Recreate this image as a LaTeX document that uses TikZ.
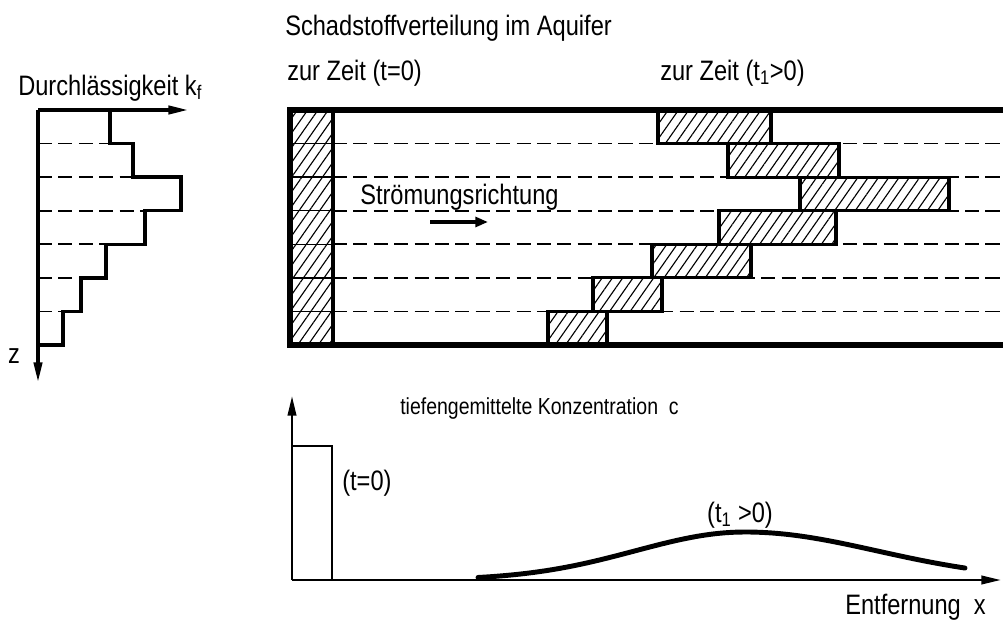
\documentclass[tikz,border=0pt]{standalone}
\usepackage{fontspec}
\setmainfont[FakeStretch=0.84]{Liberation Sans}
\usetikzlibrary{arrows.meta, patterns.meta}

\begin{document}
\begin{tikzpicture}[
    x=0.025cm, y=-0.025cm,
    lbl/.style      = {font=\fontsize{20}{23}\selectfont, inner sep=0pt},
    wall/.style     = {line width=4pt, line cap=rect},
    layer/.style    = {line width=1.2pt, dash pattern=on 10pt off 4.5pt},
    hatch/.style    = {pattern={Lines[angle=55, distance=6pt, line width=0.8pt]}},
    hatchbox/.style = {hatch, draw, line width=2.3pt, preaction={fill=white}},
    kfline/.style   = {line width=2.3pt},
    axis/.style     = {line width=1.8pt, -{Triangle[length=14pt, width=6pt]}},
    flowarrow/.style= {line width=3pt, -{Triangle[length=9pt, width=7pt]}},
    curve/.style    = {line width=3.5pt, line cap=round},
]
\useasboundingbox (0,0) rectangle (1003,623);

%% ============================================================
%% COORDINATES
%% ============================================================
\def\xA{38}      % kf axis
\def\xL{290}     % aquifer left wall
\def\xH{333}     % end of initial slab
\def\xR{1003}    % aquifer runs off the page
\def\yT{110}     % aquifer top
\def\yB{345}     % aquifer bottom
\def\dy{33.57}   % layer thickness

%% ============================================================
%% LABELS
%% ============================================================
\node[lbl, anchor=west] (kfLbl) at (18,88)  {Durchlässigkeit k\textsubscript{f}};
\node[lbl]              (zLbl)  at (14,356) {z};
\node[lbl, anchor=west] (title) at (285,28) {Schadstoffverteilung im Aquifer};
\node[lbl, anchor=west] (tNull) at (287,73) {zur Zeit (t=0)};
\node[lbl, anchor=west] (tEins) at (660,73) {zur Zeit (t\textsubscript{1}>0)};
\node[lbl, anchor=west] (flow)  at (360,197) {Strömungsrichtung};
\node[lbl, anchor=west, font=\fontsize{16.5}{19}\selectfont]
                        (cLbl)  at (400,408) {tiefengemittelte Konzentration\ \ c};
\node[lbl, anchor=west] (cNull) at (342,483) {(t=0)};
\node[lbl]              (cEins) at (740,515) {(t\textsubscript{1} >0)};
\node[lbl, anchor=west] (xLbl)  at (845,607) {Entfernung\ \ x};

%% ============================================================
%% PERMEABILITY PROFILE
%% ============================================================
\coordinate (kf0)  at (\xA,\yT);
\coordinate (kfEnd) at (188,\yT);
\coordinate (zEnd) at (\xA,382);

\foreach \y/\m in {143.6/110, 177.1/133, 210.7/145, 244.3/106, 277.9/81, 311.4/63}
    \draw[layer] (\xA,\y) -- (\m,\y);

\draw[kfline] (110,\yT) -- (110,143.6) -- (133,143.6) -- (133,177.1)
    -- (181,177.1) -- (181,210.7) -- (145,210.7) -- (145,244.3)
    -- (106,244.3) -- (106,277.9) -- (81,277.9) -- (81,311.4)
    -- (63,311.4) -- (63,\yB) -- (\xA,\yB);

\draw[axis, line width=2.2pt] (kf0) -- (kfEnd);
\draw[axis, line width=2.2pt] (kf0) -- (zEnd);

%% ============================================================
%% AQUIFER
%% ============================================================
\foreach \i in {1,...,6}
    \draw[layer] (\xH,{\yT+\i*\dy}) -- (\xR,{\yT+\i*\dy});

% initial slab at t=0
\fill[hatch] (\xL,\yT) rectangle (\xH,\yB);
\foreach \i in {1,...,6}
    \draw[line width=1pt] (\xL,{\yT+\i*\dy}) -- (\xH,{\yT+\i*\dy});
\draw[kfline] (\xH,\yT) -- (\xH,\yB);

% slab at t1>0
\foreach \i/\a/\b in {0/658/771, 1/728/839, 2/800/949, 3/719/836,
                      4/652/751, 5/593/662, 6/548/607}
    \draw[hatchbox] (\a,{\yT+\i*\dy}) rectangle (\b,{\yT+(\i+1)*\dy});

\draw[wall] (\xR,\yT) -- (\xL,\yT) -- (\xL,\yB) -- (\xR,\yB);

% flow direction
\coordinate (flowA) at (430,222);
\coordinate (flowB) at (488,222);
\draw[flowarrow] (flowA) -- (flowB);

%% ============================================================
%% DEPTH-AVERAGED CONCENTRATION
%% ============================================================
\coordinate (c0)   at (292,580);
\coordinate (cTop) at (292,396);
\coordinate (xEnd) at (1001,580);
\draw[axis] (c0) -- (cTop);
\draw[axis] (c0) -- (xEnd);

\draw[line width=1.8pt] (292,446) -- (332,446) -- (332,580);

\draw[curve] plot[domain=478:745, samples=40]
        (\x, {580-48*exp(-0.5*((\x-745)/110)*((\x-745)/110))})
    -- plot[domain=745:965, samples=40]
        (\x, {580-48*exp(-0.5*((\x-745)/132)*((\x-745)/132))});

\end{tikzpicture}
\end{document}
